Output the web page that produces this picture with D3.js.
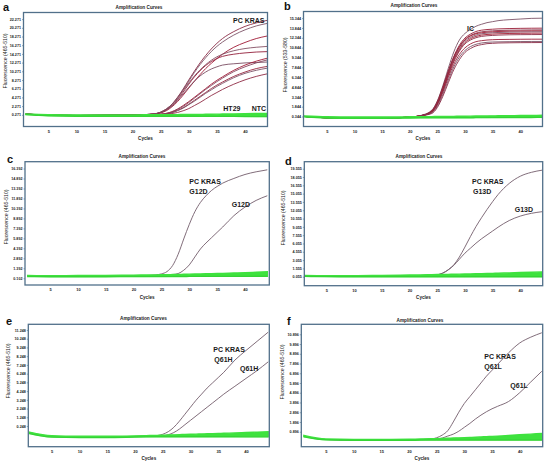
<!DOCTYPE html>
<html><head><meta charset="utf-8">
<script src="https://cdn.jsdelivr.net/npm/d3@7"></script>
<style>body{margin:0;background:#fff} svg{display:block}</style>
</head><body>
<svg id="chart" width="547" height="463"></svg>
<script>
// ---------- DATA ----------
const cycles = [1,5,10,15,20,22,24,25,26,27,28,29,30,31,32,33,34,35,36,38,40,42,44];
const xTicks = [5,10,15,20,25,30,35,40];

// panel a
const aTicks = [0.271,2.271,4.271,6.271,8.271,10.271,12.271,14.271,16.271,18.271,20.271,22.271];
const aTickLabels = ["0.271","2.271","4.271","6.271","8.271","10.271","12.271","14.271","16.271","18.271","20.271","22.271"];
const aCurves = [
  [0.45,0.2,0.1,0.15,0.2,0.3,0.5, 0.9,1.6,2.7,4.3,6.2,8.3,10.3,12.2,13.9,15.4,16.7,17.8,19.4,20.6,21.4,22.0],
  [0.4,0.25,0.15,0.1,0.2,0.3,0.5, 0.8,1.5,2.6,4.1,6.0,8.0,10.0,11.8,13.4,14.8,16.0,17.0,18.6,19.8,20.7,21.3],
  [0.4,0.2,0.1,0.15,0.2,0.3,0.45, 0.7,1.2,2.1,3.3,4.8,6.4,8.0,9.5,10.9,12.1,13.2,14.2,15.8,16.9,17.8,18.4],
  [0.45,0.2,0.15,0.15,0.2,0.3,0.5, 0.9,1.6,2.7,4.2,5.9,7.6,9.2,10.6,11.8,12.8,13.6,14.2,15.0,15.5,15.8,16.0],
  [0.4,0.2,0.1,0.15,0.2,0.3,0.5, 0.8,1.4,2.4,3.8,5.5,7.3,9.0,10.4,11.6,12.5,13.2,13.7,14.2,14.5,14.7,14.8],
  [0.4,0.2,0.1,0.15,0.2,0.3,0.5, 0.8,1.4,2.3,3.6,5.1,6.6,8.0,9.2,10.1,10.8,11.3,11.7,12.0,12.2,12.3,12.4],
  [0.4,0.2,0.1,0.15,0.2,0.25,0.3, 0.4,0.6,1.0,1.6,2.4,3.3,4.3,5.3,6.3,7.3,8.2,9.0,10.5,11.7,12.6,13.3],
  [0.4,0.2,0.1,0.15,0.2,0.25,0.3, 0.4,0.6,0.9,1.5,2.2,3.1,4.1,5.1,6.1,7.0,7.9,8.7,10.2,11.3,12.2,12.9],
  [0.4,0.2,0.1,0.15,0.2,0.25,0.3, 0.35,0.5,0.8,1.3,1.9,2.7,3.6,4.5,5.4,6.3,7.1,7.8,9.1,10.1,10.9,11.4],
  [0.4,0.2,0.1,0.15,0.2,0.25,0.3, 0.35,0.5,0.75,1.2,1.8,2.6,3.4,4.3,5.2,6.0,6.8,7.5,8.8,9.8,10.5,11.0],
  [0.4,0.2,0.1,0.15,0.2,0.25,0.3, 0.3,0.4,0.55,0.8,1.2,1.7,2.4,3.1,3.9,4.7,5.4,6.1,7.3,8.3,9.1,9.7]
];
const aGreenLow  = [0.3,0.05,-0.05,-0.05,-0.05,-0.05,-0.05,-0.05,-0.05,-0.05,-0.05,-0.05,-0.05,-0.05,-0.07,-0.07,-0.08,-0.08,-0.1,-0.1,-0.12,-0.15,-0.15];
const aGreenHigh = [0.45,0.3,0.25,0.25,0.25,0.27,0.28,0.29,0.3,0.31,0.32,0.33,0.34,0.35,0.37,0.38,0.4,0.42,0.44,0.48,0.52,0.56,0.6];

// panel b
const bTicks = [0.344,1.844,3.344,4.844,6.344,7.844,9.344,10.844,12.344,13.844,15.344];
const bTickLabels = ["0.344","1.844","3.344","4.844","6.344","7.844","9.344","10.844","12.344","13.844","15.344"];
const bCurves = [
  [0.35,0.15,0.1,0.1,0.25,0.5,1.3, 2.7,5.0,7.7,10.2,12.0,13.0,13.6,14.1,14.4,14.65,14.8,14.95,15.1,15.2,15.3,15.33],
  [0.35,0.15,0.1,0.1,0.25,0.45,1.2, 2.6,4.8,7.3,9.5,11.2,12.3,12.9,13.3,13.5,13.6,13.65,13.7,13.75,13.78,13.8,13.81],
  [0.35,0.15,0.1,0.1,0.25,0.45,1.2, 2.5,4.7,7.2,9.4,11.0,12.1,12.7,13.05,13.25,13.35,13.4,13.45,13.5,13.52,13.54,13.55],
  [0.35,0.15,0.1,0.1,0.25,0.45,1.1, 2.4,4.6,7.1,9.3,10.9,12.0,12.6,12.95,13.1,13.2,13.25,13.3,13.35,13.37,13.39,13.4],
  [0.35,0.15,0.1,0.1,0.25,0.45,1.1, 2.4,4.5,7.0,9.1,10.7,11.8,12.4,12.75,12.95,13.05,13.1,13.15,13.2,13.22,13.24,13.25],
  [0.35,0.15,0.1,0.1,0.25,0.45,1.1, 2.3,4.4,6.8,8.9,10.5,11.6,12.2,12.55,12.75,12.85,12.9,12.95,13.0,13.02,13.04,13.05],
  [0.35,0.15,0.1,0.1,0.25,0.45,1.0, 2.2,4.2,6.6,8.7,10.3,11.4,12.0,12.35,12.55,12.65,12.7,12.75,12.8,12.82,12.83,12.84],
  [0.35,0.15,0.1,0.1,0.25,0.45,1.0, 2.1,4.0,6.3,8.3,9.8,10.8,11.4,11.75,11.9,12.0,12.05,12.08,12.1,12.12,12.13,12.13],
  [0.35,0.15,0.1,0.1,0.25,0.45,0.9, 1.9,3.7,5.9,7.9,9.4,10.4,11.0,11.35,11.55,11.65,11.7,11.72,11.75,11.77,11.78,11.78],
  [0.35,0.15,0.1,0.1,0.25,0.45,0.8, 1.7,3.4,5.5,7.5,9.0,10.1,10.7,11.1,11.3,11.45,11.5,11.55,11.58,11.6,11.61,11.62]
];
const bGreenLow  = [0.28,0.12,0.08,0.08,0.12,0.14,0.15,0.15,0.15,0.15,0.15,0.16,0.16,0.16,0.17,0.17,0.17,0.18,0.18,0.19,0.2,0.2,0.21];
const bGreenHigh = [0.42,0.3,0.26,0.26,0.3,0.32,0.33,0.34,0.35,0.36,0.37,0.38,0.39,0.4,0.41,0.42,0.43,0.44,0.45,0.47,0.49,0.51,0.53];

// panel c
const cTicks = [-0.108,1.392,2.892,4.392,5.892,7.392,8.892,10.392,11.892,13.392,14.892,16.392];
const cTickLabels = ["0.102","1.392","2.892","4.392","5.892","7.392","8.892","10.392","11.892","13.392","14.892","16.392"];
const cCurves = [
  [0.2,0.2,0.22,0.25,0.28,0.3,0.4, 0.55,0.9,1.8,3.5,5.8,8.0,9.9,11.3,12.3,13.1,13.7,14.2,14.9,15.5,15.9,16.2],
  [0.2,0.2,0.22,0.22,0.24,0.25,0.25, 0.3,0.35,0.45,0.6,1.1,1.9,3.1,4.3,5.2,6.0,6.8,7.6,9.3,10.6,11.6,12.3]
];
const cGreenLow  = [0.15,0.12,0.12,0.13,0.14,0.14,0.15,0.15,0.15,0.16,0.16,0.16,0.17,0.17,0.17,0.17,0.18,0.18,0.18,0.19,0.19,0.2,0.2];
const cGreenHigh = [0.3,0.28,0.3,0.33,0.36,0.38,0.4,0.42,0.43,0.45,0.47,0.49,0.51,0.53,0.55,0.57,0.59,0.61,0.63,0.68,0.73,0.8,0.88];

// panel d
const dTicks = [0.055,1.555,3.055,4.555,6.055,7.555,9.055,10.555,12.055,13.555,15.055,16.555,18.055,19.555];
const dTickLabels = ["0.055","1.555","3.055","4.555","6.055","7.555","9.055","10.555","12.055","13.555","15.055","16.555","18.055","19.555"];
const dCurves = [
  [0.1,0.12,0.15,0.2,0.25,0.28,0.32, 0.4,0.7,1.3,2.2,3.6,5.4,7.3,9.1,10.7,12.2,13.6,14.9,16.9,18.2,18.9,19.3],
  [0.1,0.12,0.15,0.2,0.25,0.28,0.32, 0.4,0.7,1.3,2.1,3.2,4.3,5.2,6.1,6.9,7.6,8.3,9.0,10.2,11.0,11.5,11.8]
];
const dGreenLow  = [0.12,0.06,0.05,0.05,0.05,0.05,0.05,0.05,0.05,0.05,0.05,0.05,0.05,0.05,0.05,0.05,0.05,0.05,0.05,0.05,0.05,0.05,0.05];
const dGreenHigh = [0.3,0.25,0.25,0.3,0.35,0.38,0.42,0.44,0.46,0.48,0.5,0.52,0.54,0.56,0.58,0.6,0.62,0.65,0.68,0.74,0.8,0.86,0.92];

// panel e
const eTicks = [0.248,1.248,2.248,3.248,4.248,5.248,6.248,7.248,8.248,9.248,10.248,11.248];
const eTickLabels = ["0.248","1.248","2.248","3.248","4.248","5.248","6.248","7.248","8.248","9.248","10.248","11.248"];
const eCurves = [
  [-0.55,-0.95,-1.0,-1.0,-0.95,-0.9,-0.85, -0.7,-0.4,0.1,0.8,1.6,2.4,3.2,3.9,4.6,5.2,5.8,6.4,7.8,8.9,9.95,11.0],
  [-0.55,-0.95,-1.0,-1.0,-0.95,-0.9,-0.88, -0.85,-0.75,-0.5,-0.1,0.4,0.9,1.4,1.9,2.4,2.9,3.4,3.9,4.8,5.7,6.6,7.6]
];
const eGreenLow  = [-0.62,-1.02,-1.07,-1.07,-1.02,-1.0,-0.98,-0.98,-0.98,-0.98,-0.98,-0.98,-0.98,-0.98,-0.98,-0.98,-0.98,-0.98,-0.98,-0.98,-0.99,-0.99,-0.99];
const eGreenHigh = [-0.45,-0.86,-0.92,-0.92,-0.88,-0.85,-0.82,-0.8,-0.78,-0.76,-0.74,-0.72,-0.7,-0.68,-0.66,-0.64,-0.62,-0.6,-0.58,-0.54,-0.5,-0.45,-0.4];

// panel f
const fTicks = [0.896,1.896,2.896,3.896,4.896,5.896,6.896,7.896,8.896,9.896,10.896];
const fTickLabels = ["0.896","1.896","2.896","3.896","4.896","5.896","6.896","7.896","8.896","9.896","10.896"];
const fCurves = [
  [0.45,0.1,0.05,0.05,0.08,0.1,0.15, 0.28,0.55,1.0,1.9,2.9,3.8,4.5,5.2,5.9,6.6,7.2,7.8,9.0,10.0,10.6,11.05],
  [0.45,0.1,0.05,0.05,0.08,0.1,0.1, 0.14,0.25,0.45,0.65,0.95,1.35,1.75,2.2,2.6,2.95,3.25,3.5,4.0,4.9,6.0,7.1]
];
const fGreenLow  = [0.38,0.06,0.02,0.02,0.02,0.03,0.04,0.04,0.04,0.04,0.04,0.04,0.04,0.04,0.04,0.04,0.04,0.04,0.04,0.04,0.04,0.04,0.04];
const fGreenHigh = [0.52,0.16,0.11,0.11,0.13,0.15,0.17,0.19,0.21,0.23,0.25,0.27,0.29,0.31,0.33,0.36,0.39,0.42,0.45,0.51,0.58,0.65,0.72];

// ---------- LAYOUT ----------
const FONT = "'Liberation Sans', Arial, Helvetica, sans-serif";
const panels = [
  {letter:"a", L:23.5,R:267.5,T:12.5,B:126.5, xd:[0.6,44.0], yd:[-2.42,23.79], ticks:aTicks, labels:aTickLabels, curves:aCurves, gl:aGreenLow, gh:aGreenHigh,
   colors:["#8a2a45","#7d5468","#a01a35","#855064","#931f3b","#7a4d62","#a01a35","#86445c","#962640","#7d5468","#8f2a44"],
   title:[139,9], let:[3,10.5], ylab:[6.7,61], ylabText:"Fluorescence (465-510)",
   notes:[["PC KRAS",233,23.3],["HT29",223.3,111],["NTC",251.7,111]]},
  {letter:"b", L:303.5,R:542.5,T:11.5,B:126.5, xd:[0.78,44.05], yd:[-1.18,16.35], ticks:bTicks, labels:bTickLabels, curves:bCurves, gl:bGreenLow, gh:bGreenHigh,
   colors:["#7d5468","#9a1e38","#8a3048","#a3182f","#7e4a60","#a3182f","#8c2c45","#9a1e38","#7d5468","#8a2a45"],
   title:[414,6.7], let:[284,10], ylab:[287,65], ylabText:"Fluorescence (533-580)",
   notes:[["IC",467,31]]},
  {letter:"c", L:25,R:269.3,T:161.7,B:285, xd:[0.51,44.36], yd:[-1.12,17.42], ticks:cTicks, labels:cTickLabels, curves:cCurves, gl:cGreenLow, gh:cGreenHigh,
   colors:["#735c6b","#735c6b"], title:[142,158], let:[7,162.5], ylab:[8.3,217], ylabText:"Fluorescence (465-510)",
   notes:[["PC KRAS",189.3,184.3],["G12D",189.3,194.3],["G12D",231.7,206.7]]},
  {letter:"d", L:304.3,R:542.7,T:161.7,B:285.7, xd:[1.03,44.04], yd:[-1.57,20.82], ticks:dTicks, labels:dTickLabels, curves:dCurves, gl:dGreenLow, gh:dGreenHigh,
   colors:["#735c6b","#735c6b"], title:[419,158], let:[285,165], ylab:[285.2,218], ylabText:"Fluorescence (465-510)",
   notes:[["PC KRAS",472,184.3],["G13D",473,194.3],["G13D",514.7,212.3]]},
  {letter:"e", L:28.3,R:269.3,T:324.3,B:446.7, xd:[0.79,44.2], yd:[-2.12,11.9], ticks:eTicks, labels:eTickLabels, curves:eCurves, gl:eGreenLow, gh:eGreenHigh,
   colors:["#735c6b","#735c6b"], title:[143.5,320.3], let:[6,325], ylab:[9.8,371], ylabText:"Fluorescence (465-510)",
   notes:[["PC KRAS",213.3,351.7],["Q61H",214.3,361.7],["Q61H",240,371]]},
  {letter:"f", L:301.3,R:542.7,T:324.3,B:446.7, xd:[0.54,44.16], yd:[-0.64,11.92], ticks:fTicks, labels:fTickLabels, curves:fCurves, gl:fGreenLow, gh:fGreenHigh,
   colors:["#735c6b","#735c6b"], title:[420,322], let:[287,325], ylab:[283.5,372], ylabText:"Fluorescence (465-510)",
   notes:[["PC KRAS",484.3,359.3],["Q61L",484.3,369.3],["Q61L",510.3,388.3]]}
];

const svg = d3.select("#chart");
const defs = svg.append("defs");
const FRAME = "#51708a";
const GREEN = "#3ee23e";

panels.forEach((p, pi) => {
  const x = d3.scaleLinear().domain(p.xd).range([p.L, p.R]);
  const y = d3.scaleLinear().domain(p.yd).range([p.B, p.T]);
  const g = svg.append("g");
  const cid = "clip" + pi;
  defs.append("clipPath").attr("id", cid).append("rect")
    .attr("x", p.L).attr("y", p.T).attr("width", p.R - p.L).attr("height", p.B - p.T);
  const plot = g.append("g").attr("clip-path", `url(#${cid})`);

  const line = d3.line().x((d, i) => x(cycles[i])).y(d => y(d)).curve(d3.curveMonotoneX);
  p.curves.forEach((c, i) => {
    plot.append("path").attr("d", line(c)).attr("fill", "none")
      .attr("stroke", p.colors[i % p.colors.length]).attr("stroke-width", 0.9);
  });

  const band = p.gl.map((v, i) => [v, p.gh[i]]);
  const area = d3.area().x((d, i) => x(cycles[i])).y0(d => y(d[0])).y1(d => y(d[1])).curve(d3.curveMonotoneX);
  plot.append("path").attr("d", area(band)).attr("fill", GREEN).attr("stroke", GREEN).attr("stroke-width", 1.4);
  plot.append("path").attr("d", line(p.gl)).attr("fill", "none").attr("stroke", "#2fc52f").attr("stroke-width", 0.6);

  g.append("rect").attr("x", p.L).attr("y", p.T).attr("width", p.R - p.L).attr("height", p.B - p.T)
    .attr("fill", "none").attr("stroke", FRAME).attr("stroke-width", 1.3);

  const ya = g.append("g").attr("transform", `translate(${p.L},0)`)
    .call(d3.axisLeft(y).tickValues(p.ticks).tickFormat((d, i) => p.labels[i]).tickSize(1.5).tickPadding(1));
  ya.select(".domain").remove();
  ya.selectAll("line").attr("stroke", FRAME).attr("stroke-width", 0.6);
  ya.selectAll("text").attr("font-family", FONT).attr("font-size", 3.7).attr("font-weight", "bold").attr("fill", "#222");

  const xa = g.append("g").attr("transform", `translate(0,${p.B})`)
    .call(d3.axisBottom(x).tickValues(xTicks).tickSize(0).tickPadding(3.3));
  xa.select(".domain").remove();
  xa.selectAll("text").attr("font-family", FONT).attr("font-size", 4).attr("font-weight", "bold").attr("fill", "#222");

  g.append("text").attr("x", (p.L + p.R) / 2).attr("y", p.B + 13.5).attr("text-anchor", "middle")
    .attr("font-family", FONT).attr("font-size", 4.6).attr("font-weight", "bold").attr("fill", "#222").text("Cycles");

  g.append("text").attr("x", p.title[0]).attr("y", p.title[1]).attr("text-anchor", "middle")
    .attr("font-family", FONT).attr("font-size", 4.7).attr("font-weight", "bold").attr("fill", "#222").text("Amplification Curves");

  g.append("text").attr("transform", `translate(${p.ylab[0]},${p.ylab[1]}) rotate(-90)`).attr("text-anchor", "middle")
    .attr("font-family", FONT).attr("font-size", 5.2).attr("fill", "#222").text(p.ylabText);

  g.append("text").attr("x", p.let[0]).attr("y", p.let[1])
    .attr("font-family", FONT).attr("font-size", 11).attr("font-weight", "bold").attr("fill", "#111").text(p.letter);

  p.notes.forEach(n => {
    g.append("text").attr("x", n[1]).attr("y", n[2])
      .attr("font-family", FONT).attr("font-size", 7).attr("font-weight", "bold").attr("fill", "#1a1a1a").text(n[0]);
  });
});
</script>
</body></html>
